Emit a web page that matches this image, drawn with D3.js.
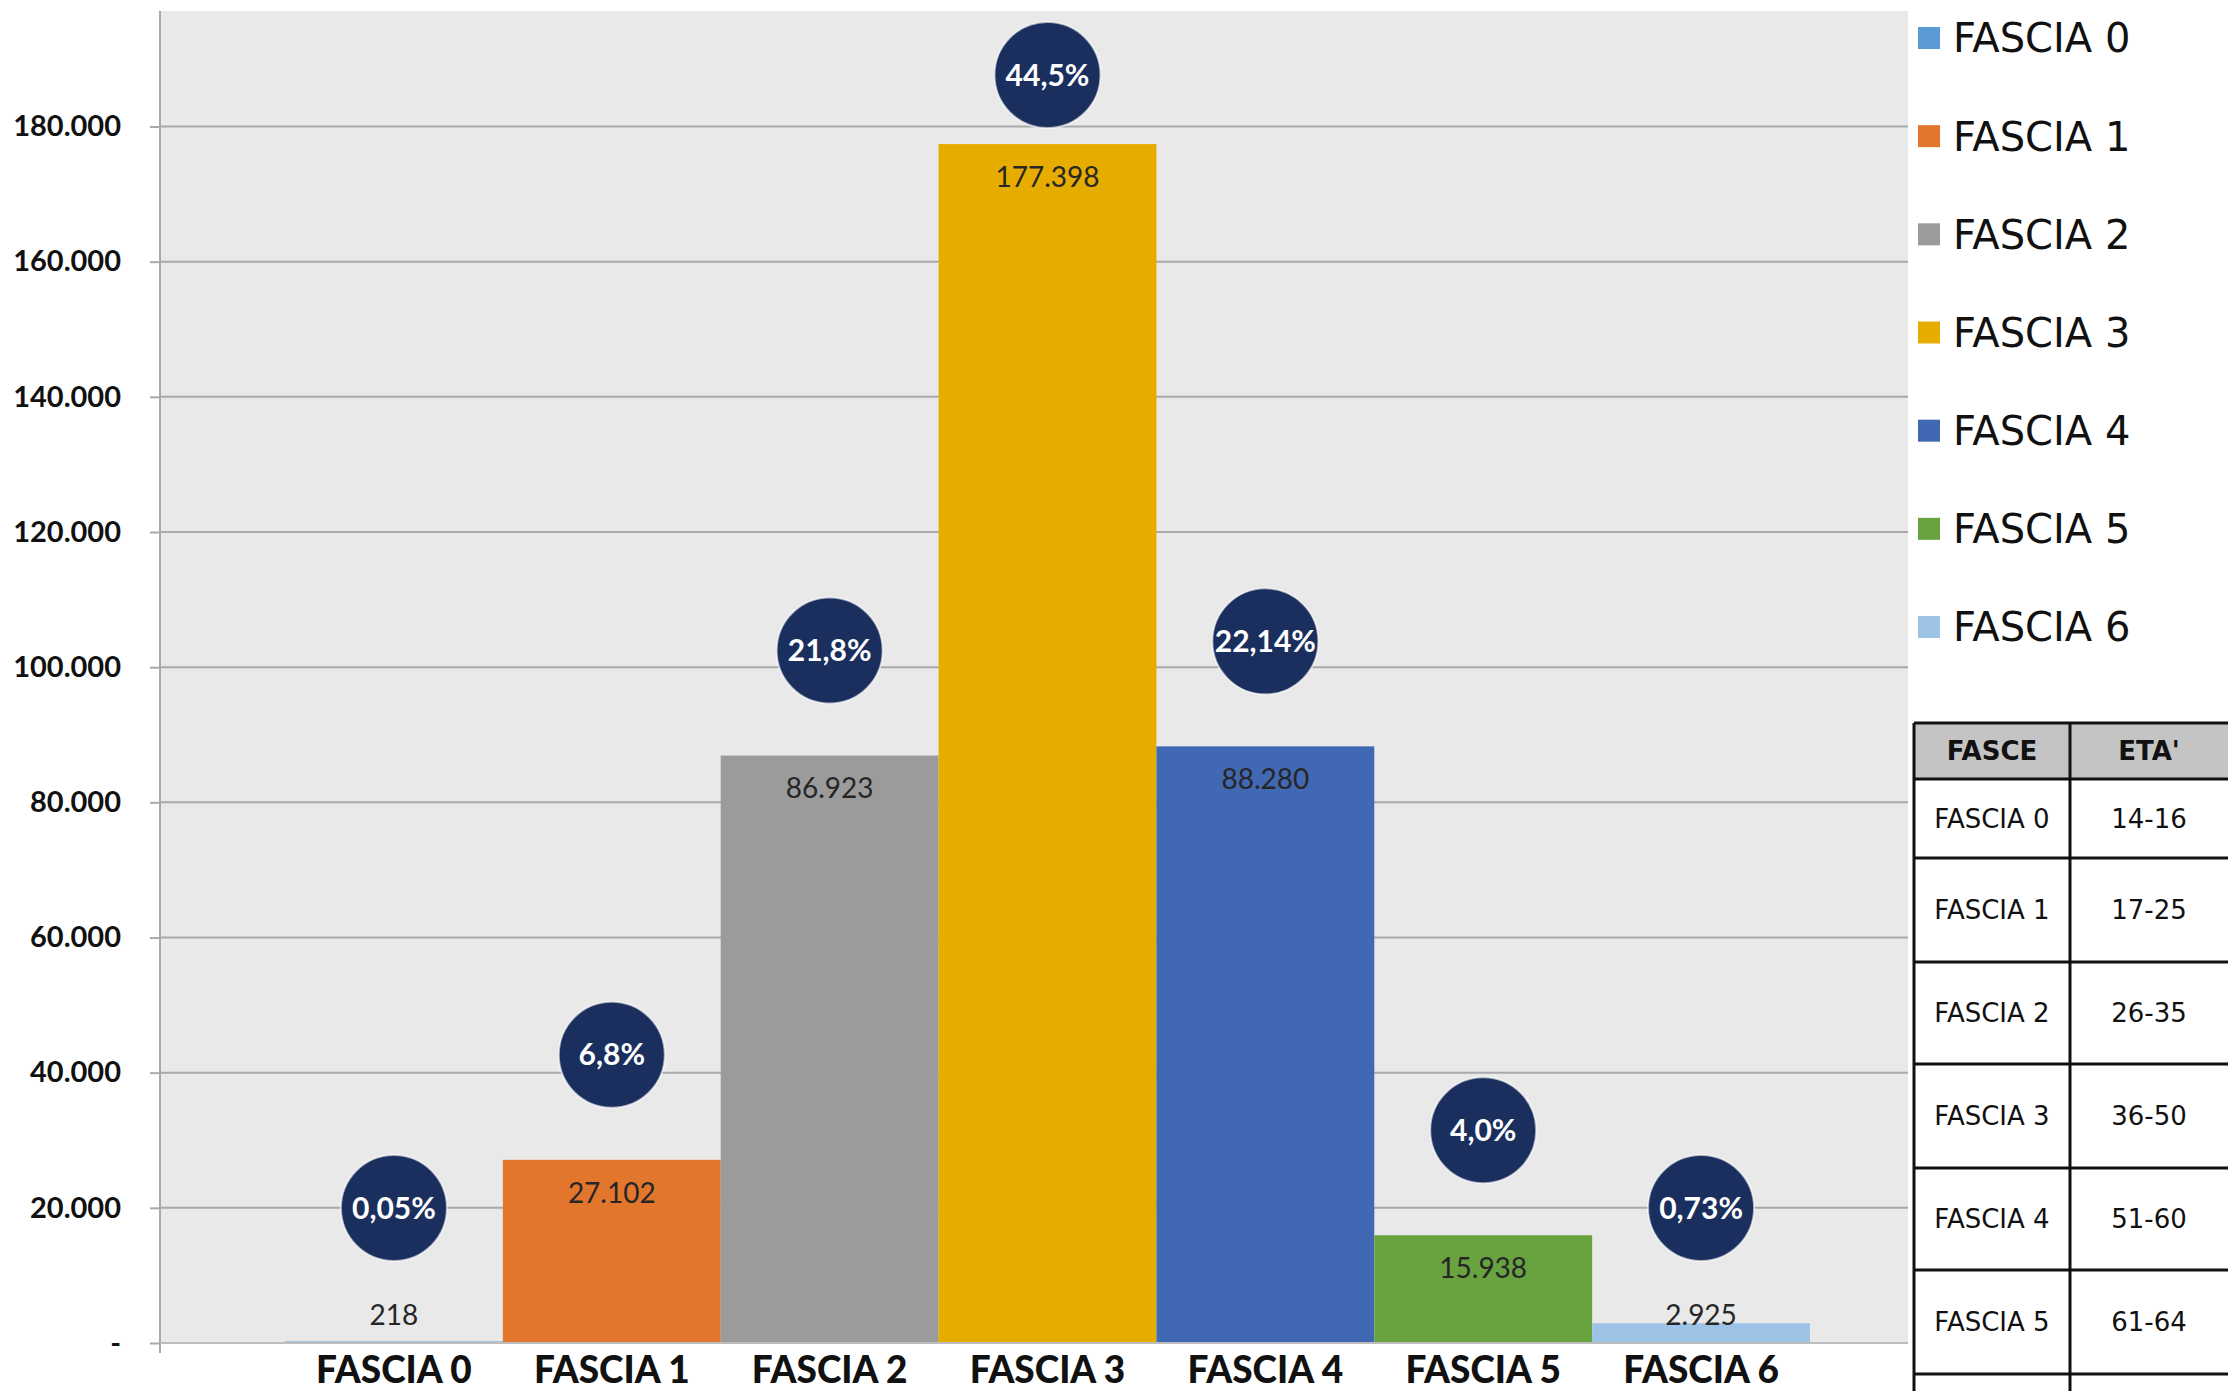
<!DOCTYPE html>
<meta charset="utf-8" />
<html>
  <head>
    <script src="https://d3js.org/d3.v7.min.js"></script>
    <style>
      body {
        margin: 0;
        background-color: white;
      }
    </style>
  </head>
  <body>
    <div id="chart"></div>
  </body>

  <script>
    // chart data
    const categories = ["FASCIA 0", "FASCIA 1", "FASCIA 2", "FASCIA 3", "FASCIA 4", "FASCIA 5", "FASCIA 6"];
    const values = [218, 27102, 86923, 177398, 88280, 15938, 2925];
    const percentLabels = ["0,05%", "6,8%", "21,8%", "44,5%", "22,14%", "4,0%", "0,73%"];
    const yTicks = [0, 20000, 40000, 60000, 80000, 100000, 120000, 140000, 160000, 180000];

    // side table
    const tableHeader = ["FASCE", "ETA'"];
    const tableFasce = ["FASCIA 0", "FASCIA 1", "FASCIA 2", "FASCIA 3", "FASCIA 4", "FASCIA 5"];
    const tableEta = ["14-16", "17-25", "26-35", "36-50", "51-60", "61-64"];

    const barColors = ["#5B9BD5", "#E2762D", "#9B9B9B", "#E6AD00", "#4068B3", "#68A33F", "#9DC3E6"];

    const width = 2228;
    const height = 1391;
    const plot = {left: 160, right: 1908, top: 11, bottom: 1343};

    const it = d3.formatLocale({decimal: ",", thousands: ".", grouping: [3], currency: ["€", ""]});
    const fmt = it.format(",d");
    const tickFmt = d => d === 0 ? "-" : fmt(d);

    const svg = d3.select("#chart").append("svg")
      .attr("width", width)
      .attr("height", height);

    const x = d3.scaleBand()
      .domain(categories)
      .range([285, 1810])
      .padding(0);

    const y = d3.scaleLinear()
      .domain([0, 180000])
      .range([plot.bottom, 126.5]);

    // plot background
    svg.append("rect")
      .attr("x", plot.left)
      .attr("y", plot.top)
      .attr("width", plot.right - plot.left)
      .attr("height", plot.bottom - plot.top)
      .attr("fill", "#E9E9E9");

    // gridlines
    svg.append("g")
      .selectAll("line")
      .data(yTicks)
      .join("line")
        .attr("x1", plot.left)
        .attr("x2", plot.right)
        .attr("y1", d => y(d))
        .attr("y2", d => y(d))
        .attr("stroke", "#A9A9A9")
        .attr("stroke-width", 2);

    // y axis
    const yAxis = svg.append("g")
      .attr("transform", `translate(${plot.left},0)`)
      .call(d3.axisLeft(y).tickValues(yTicks).tickFormat(tickFmt).tickSize(10).tickPadding(29));
    yAxis.select(".domain").remove();
    yAxis.selectAll(".tick line").attr("stroke", "#A9A9A9").attr("stroke-width", 2);
    yAxis.selectAll(".tick text")
      .style("font-family", "Lato, sans-serif")
      .style("font-weight", "bold")
      .style("font-size", "29px")
      .attr("fill", "#111");

    svg.append("line")
      .attr("x1", plot.left).attr("x2", plot.left)
      .attr("y1", plot.top).attr("y2", plot.bottom + 10)
      .attr("stroke", "#A9A9A9")
      .attr("stroke-width", 2);

    // bars
    svg.append("g")
      .selectAll("rect")
      .data(values)
      .join("rect")
        .attr("x", (d, i) => x(categories[i]))
        .attr("y", d => y(d))
        .attr("width", x.bandwidth())
        .attr("height", d => y(0) - y(d))
        .attr("fill", (d, i) => barColors[i]);

    // x axis
    const xAxis = svg.append("g")
      .attr("transform", `translate(0,${plot.bottom})`)
      .call(d3.axisBottom(x).tickSize(0).tickPadding(14));
    xAxis.select(".domain").remove();
    xAxis.selectAll(".tick text")
      .style("font-family", "Lato, sans-serif")
      .style("font-weight", "900")
      .style("font-size", "37px")
      .attr("fill", "#111");

    svg.append("line")
      .attr("x1", plot.left).attr("x2", plot.right)
      .attr("y1", plot.bottom).attr("y2", plot.bottom)
      .attr("stroke", "#BDBDBD")
      .attr("stroke-width", 2);

    // value labels
    svg.append("g")
      .selectAll("text")
      .data(values)
      .join("text")
        .attr("x", (d, i) => x(categories[i]) + x.bandwidth() / 2)
        .attr("y", d => Math.min(y(d) + 33, y(0) - 28))
        .attr("dy", "0.35em")
        .attr("text-anchor", "middle")
        .style("font-family", "Lato, sans-serif")
        .style("font-size", "28px")
        .attr("fill", "#262626")
        .text(d => fmt(d));

    // percentage bubbles
    const bubbles = svg.append("g")
      .selectAll("g")
      .data(values)
      .join("g")
        .attr("transform", (d, i) => `translate(${x(categories[i]) + x.bandwidth() / 2},${Math.max(Math.min(y(d) - 105, y(0) - 135), 75)})`);

    bubbles.append("circle")
      .attr("r", 53)
      .attr("fill", "#1B2F5E")
      .attr("stroke", "white")
      .attr("stroke-opacity", 0.6)
      .attr("stroke-width", 2);

    bubbles.append("text")
      .attr("text-anchor", "middle")
      .attr("dy", "0.35em")
      .style("font-family", "Lato, sans-serif")
      .style("font-weight", "bold")
      .style("font-size", "30px")
      .attr("fill", "white")
      .text((d, i) => percentLabels[i]);

    // legend
    const legend = d3.scalePoint()
      .domain(categories)
      .range([38, 627]);

    const legendItems = svg.append("g")
      .selectAll("g")
      .data(categories)
      .join("g")
        .attr("transform", d => `translate(1918,${legend(d)})`);

    legendItems.append("rect")
      .attr("x", 0)
      .attr("y", -11)
      .attr("width", 22)
      .attr("height", 22)
      .attr("fill", (d, i) => barColors[i]);

    legendItems.append("text")
      .attr("x", 35)
      .attr("dy", "0.36em")
      .style("font-family", "DejaVu Sans, sans-serif")
      .style("font-size", "40px")
      .attr("fill", "#111")
      .text(d => d);

    // table
    const tbl = {x0: 1914, x1: 2070, x2: 2240};
    const rowEdges = [723, 779, 858, 962, 1064, 1168, 1270, 1374, 1460];

    svg.append("rect")
      .attr("x", tbl.x0)
      .attr("y", rowEdges[0])
      .attr("width", tbl.x2 - tbl.x0)
      .attr("height", rowEdges[1] - rowEdges[0])
      .attr("fill", "#C4C4C4");

    svg.append("rect")
      .attr("x", tbl.x0)
      .attr("y", rowEdges[1])
      .attr("width", tbl.x2 - tbl.x0)
      .attr("height", rowEdges[rowEdges.length - 1] - rowEdges[1])
      .attr("fill", "white");

    const tg = svg.append("g");
    tg.selectAll("line.h")
      .data(rowEdges)
      .join("line")
        .attr("class", "h")
        .attr("x1", tbl.x0).attr("x2", tbl.x2)
        .attr("y1", d => d).attr("y2", d => d)
        .attr("stroke", "#111")
        .attr("stroke-width", 3);

    tg.selectAll("line.v")
      .data([tbl.x0, tbl.x1])
      .join("line")
        .attr("class", "v")
        .attr("x1", d => d).attr("x2", d => d)
        .attr("y1", rowEdges[0]).attr("y2", rowEdges[rowEdges.length - 1])
        .attr("stroke", "#111")
        .attr("stroke-width", 3);

    const rowMid = i => (rowEdges[i] + rowEdges[i + 1]) / 2;

    tg.selectAll("text.head")
      .data(tableHeader)
      .join("text")
        .attr("class", "head")
        .attr("x", (d, i) => i === 0 ? (tbl.x0 + tbl.x1) / 2 : (tbl.x1 + 2228) / 2)
        .attr("y", rowMid(0))
        .attr("dy", "0.36em")
        .attr("text-anchor", "middle")
        .style("font-family", "DejaVu Sans, sans-serif")
        .style("font-weight", "bold")
        .style("font-size", "26px")
        .attr("fill", "#111")
        .text(d => d);

    tg.selectAll("text.fasce")
      .data(tableFasce)
      .join("text")
        .attr("class", "fasce")
        .attr("x", (tbl.x0 + tbl.x1) / 2)
        .attr("y", (d, i) => rowMid(i + 1))
        .attr("dy", "0.36em")
        .attr("text-anchor", "middle")
        .style("font-family", "DejaVu Sans, sans-serif")
        .style("font-size", "26px")
        .attr("fill", "#111")
        .text(d => d);

    tg.selectAll("text.eta")
      .data(tableEta)
      .join("text")
        .attr("class", "eta")
        .attr("x", (tbl.x1 + 2228) / 2)
        .attr("y", (d, i) => rowMid(i + 1))
        .attr("dy", "0.36em")
        .attr("text-anchor", "middle")
        .style("font-family", "DejaVu Sans, sans-serif")
        .style("font-size", "26px")
        .attr("fill", "#111")
        .text(d => d);
  </script>
</html>
